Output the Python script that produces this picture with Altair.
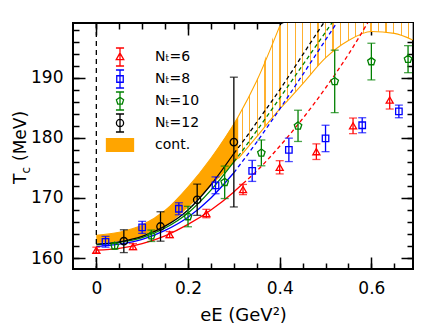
import altair as alt
import pandas as pd

# ---------------- data ----------------
series_names = ["Nₜ=6", "Nₜ=8", "Nₜ=10", "Nₜ=12"]
series_colors = ["#ff0000", "#0000ff", "#008000", "#000000"]

x_nt6 = [0.00, 0.08, 0.16, 0.24, 0.32, 0.40, 0.48, 0.56, 0.64]
tc_nt6 = [161.3, 161.9, 163.9, 167.4, 171.4, 175.1, 177.7, 182.0, 186.3]
err_nt6 = [0.5, 0.5, 0.5, 0.7, 0.85, 1.1, 1.3, 1.3, 1.5]

x_nt8 = [0.02, 0.10, 0.18, 0.26, 0.34, 0.42, 0.50, 0.58, 0.66]
tc_nt8 = [162.7, 165.1, 168.2, 172.1, 174.5, 178.0, 179.9, 182.1, 184.4]
err_nt8 = [0.9, 1.0, 1.0, 1.4, 1.75, 1.95, 2.2, 1.25, 1.05]

x_nt10 = [0.04, 0.12, 0.20, 0.28, 0.36, 0.44, 0.52, 0.60, 0.68]
tc_nt10 = [162.0, 163.7, 166.9, 172.6, 177.5, 182.0, 189.4, 192.7, 193.1]
err_nt10 = [0.5, 0.95, 1.7, 2.7, 2.15, 2.6, 5.2, 3.05, 2.25]

x_nt12 = [0.06, 0.14, 0.22, 0.30]
tc_nt12 = [162.8, 165.25, 169.7, 179.3]
err_nt12 = [1.9, 2.45, 2.6, 10.8]

# fit curves (solid up to split, dashed beyond)
curve_x = [0.0, 0.05, 0.1, 0.15, 0.2, 0.25, 0.3, 0.32, 0.35, 0.4, 0.45, 0.5, 0.55, 0.6]
curve_nt6 = [161.3, 161.6, 162.4, 163.7, 165.6, 168.0, 171.0, 172.4, 174.5, 178.6, 183.2, 188.3, 193.9, 200.2]
curve_nt8 = [161.9, 162.3, 163.1, 164.6, 166.8, 170.0, 174.2, 176.2, 179.3, 184.8, 190.5, 196.3, 202.1]
curve_nt10 = [162.2, 162.6, 163.4, 165.0, 167.5, 171.3, 176.0, 178.0, 181.2, 186.6, 192.1, 197.6, 203.1]
curve_nt12 = [162.3, 162.7, 163.6, 165.3, 168.0, 172.2, 177.4, 179.4, 182.6, 188.0, 193.8, 199.6, 205.0]
curve_split = [0.32, 0.3, 0.3, 0.3]

# continuum band
band_x = [0.0, 0.05, 0.1, 0.15, 0.2, 0.25, 0.31, 0.35, 0.4, 0.41, 0.45, 0.5, 0.55, 0.6, 0.65, 0.69]
band_lower = [162.5, 162.8, 163.6, 165.2, 168.4, 172.0, 176.6, 180.2, 184.8, 185.6, 189.0, 193.3, 196.2, 197.7, 197.4, 196.3]
band_upper = [163.8, 164.3, 165.5, 167.9, 171.8, 176.6, 183.6, 189.5, 198.6, 199.1, 199.1, 199.1, 199.1, 199.1, 199.1, 199.1]
band_split = 0.31

x_ticks_major = [0.0, 0.2, 0.4, 0.6]
x_ticks_minor = [0.0, 0.05, 0.1, 0.15, 0.2, 0.25, 0.3, 0.35, 0.4, 0.45, 0.5, 0.55, 0.6, 0.65]
y_ticks_major = [160, 170, 180, 190]
y_ticks_minor = list(range(160, 199, 2))

legend_labels = series_names + ["cont."]

# ---------------- styling ----------------
FONT = "DejaVu Sans"
ORANGE = "#ffa500"
W, H = 340, 246
xdom = [-0.0509, 0.6908]
ydom = [158.17, 199.12]
xscale = alt.Scale(domain=xdom, nice=False, zero=False)
yscale = alt.Scale(domain=ydom, nice=False, zero=False)

point_shapes = [
    "triangle-up",
    "square",
    "M0,-1L0.951,-0.309L0.588,0.809L-0.588,0.809L-0.951,-0.309Z",
    "circle",
]
point_sizes = [50, 42, 62, 55]
ebar = "M-0.45,-1H0.45M0,-1V1M-0.45,1H0.45"
legend_paths = [
    ebar + "M0,-0.45L0.42,0.3L-0.42,0.3Z",
    ebar + "M-0.36,-0.36H0.36V0.36H-0.36Z",
    ebar + "M0,-0.42L0.4,-0.13L0.247,0.34L-0.247,0.34L-0.4,-0.13Z",
    ebar + "M0.4,0A0.4,0.4,0,1,1,-0.4,0A0.4,0.4,0,1,1,0.4,0Z",
    "M-1.5,-0.7H1.5V0.7H-1.5Z",
]


def X(field="x", axis=None):
    return alt.X(f"{field}:Q", scale=xscale, axis=axis)


def Y(field, axis=None):
    return alt.Y(f"{field}:Q", scale=yscale, axis=axis)


tick_common = dict(labels=False, domain=False, grid=False, ticks=True,
                   tickColor="black", tickWidth=1.5, title=None)
x_axes = [
    alt.Axis(orient="bottom", values=x_ticks_major, format=".1~f", ticks=False,
             domain=False, grid=False, labelFont=FONT, labelFontSize=17,
             labelColor="black", labelPadding=11, title="eE (GeV²)",
             titleFont=FONT, titleFontSize=18, titleFontWeight="normal",
             titleColor="black", titlePadding=10),
    alt.Axis(orient="bottom", values=x_ticks_major, tickSize=alt.ExprRef(expr="-12"), **tick_common),
    alt.Axis(orient="bottom", values=x_ticks_minor, tickSize=alt.ExprRef(expr="-6"), **tick_common),
    alt.Axis(orient="top", values=x_ticks_major, tickSize=alt.ExprRef(expr="-12"), **tick_common),
    alt.Axis(orient="top", values=x_ticks_minor, tickSize=alt.ExprRef(expr="-6"), **tick_common),
]
y_axes = [
    alt.Axis(orient="left", values=y_ticks_major, format="d", ticks=False,
             domain=False, grid=False, labelFont=FONT, labelFontSize=17,
             labelColor="black", labelPadding=10, title=None),
    alt.Axis(orient="left", values=y_ticks_major, tickSize=alt.ExprRef(expr="-12"), **tick_common),
    alt.Axis(orient="left", values=y_ticks_minor, tickSize=alt.ExprRef(expr="-6"), **tick_common),
    alt.Axis(orient="right", values=y_ticks_major, tickSize=alt.ExprRef(expr="-12"), **tick_common),
    alt.Axis(orient="right", values=y_ticks_minor, tickSize=alt.ExprRef(expr="-6"), **tick_common),
]

# ---------------- tables ----------------
band_df = pd.DataFrame({"x": band_x, "lower": band_lower, "upper": band_upper})
band_solid = band_df[band_df.x <= band_split]
band_hatch = band_df[band_df.x >= band_split]
band_upper_line = band_df[band_df.upper < 199.05]

layers = []

# solid continuum band
layers.append(alt.Chart(band_solid).mark_area(color=ORANGE, opacity=1, interpolate="monotone", clip=True)
              .encode(x=X(), y=Y("lower"), y2="upper"))

# hatched continuum band (vertical stripes via sharp gradient)
n_stripes = 23
w = 0.0072
stops = [alt.GradientStop(color="white", offset=0)]
for i in range(n_stripes):
    a = (i + 0.5) / n_stripes
    stops += [alt.GradientStop(color="white", offset=a - w / 2),
              alt.GradientStop(color="#ffb02e", offset=a - w / 2),
              alt.GradientStop(color="#ffb02e", offset=a + w / 2),
              alt.GradientStop(color="white", offset=a + w / 2)]
stops.append(alt.GradientStop(color="white", offset=1))
hatch = alt.LinearGradient(gradient="linear", stops=stops, x1=0, x2=1, y1=0, y2=0)
layers.append(alt.Chart(band_hatch).mark_area(fill=hatch, opacity=1, interpolate="monotone", clip=True)
              .encode(x=X(), y=Y("lower"), y2="upper"))

# boundary lines
layers.append(alt.Chart(band_hatch).mark_line(color=ORANGE, strokeWidth=1.1, interpolate="monotone", clip=True)
              .encode(x=X(), y=Y("lower")))
layers.append(alt.Chart(band_upper_line).mark_line(color=ORANGE, strokeWidth=1.1, interpolate="monotone", clip=True)
              .encode(x=X(), y=Y("upper")))

# vertical dashed line at eE = 0
layers.append(alt.Chart(pd.DataFrame({"x": [0.0]})).mark_rule(color="black", strokeWidth=1.3, strokeDash=[5, 4])
              .encode(x=X()))

# fit curves
curves = [curve_nt6, curve_nt8, curve_nt10, curve_nt12]
for k, (cy, sp, col) in enumerate(zip(curves, curve_split, series_colors)):
    df = pd.DataFrame({"x": curve_x[:len(cy)], "y": cy})
    solid = df[df.x <= sp + 1e-9]
    dashed = df[df.x >= sp - 1e-9]
    layers.append(alt.Chart(solid).mark_line(color=col, strokeWidth=1.3, interpolate="monotone", clip=True)
                  .encode(x=X(axis=x_axes[k + 1]), y=Y("y", axis=y_axes[k + 1])))
    layers.append(alt.Chart(dashed).mark_line(color=col, strokeWidth=1.3, strokeDash=[4, 3],
                                              interpolate="monotone", clip=True)
                  .encode(x=X(), y=Y("y")))

# data points with error bars
pts = [(x_nt6, tc_nt6, err_nt6), (x_nt8, tc_nt8, err_nt8),
       (x_nt10, tc_nt10, err_nt10), (x_nt12, tc_nt12, err_nt12)]
for k, ((xs, ys, es), col, shp, sz) in enumerate(zip(pts, series_colors, point_shapes, point_sizes)):
    df = pd.DataFrame({"x": xs, "y": ys, "err": es})
    df["lo"] = df.y - df.err
    df["hi"] = df.y + df.err
    base = alt.Chart(df)
    rule_axis_x = x_axes[0] if k == 0 else None
    rule_axis_y = y_axes[0] if k == 0 else None
    layers.append(base.mark_rule(color=col, strokeWidth=1.3)
                  .encode(x=X(axis=rule_axis_x), y=Y("lo", axis=rule_axis_y), y2="hi"))
    layers.append(base.transform_fold(["lo", "hi"], as_=["end", "val"])
                  .mark_tick(orient="horizontal", size=8, thickness=1.3, color=col)
                  .encode(x=X(), y=Y("val")))
    layers.append(base.mark_point(shape=shp, size=sz, filled=False, color=col, strokeWidth=1.3, opacity=1)
                  .encode(x=X(), y=Y("y")))

# legend (drawn only through the legend of an empty layer)
leg_df = pd.DataFrame({"label": legend_labels})
layers.append(alt.Chart(leg_df).transform_filter("false")
              .mark_point(opacity=1, strokeWidth=1.3)
              .encode(
                  shape=alt.Shape("label:N", scale=alt.Scale(domain=legend_labels, range=legend_paths),
                                  legend=alt.Legend(title=None)),
                  stroke=alt.Stroke("label:N", scale=alt.Scale(domain=legend_labels, range=series_colors + [ORANGE]),
                                    legend=alt.Legend(title=None)),
                  fill=alt.Fill("label:N", scale=alt.Scale(domain=legend_labels,
                                                           range=["transparent"] * 4 + [ORANGE]),
                                legend=alt.Legend(title=None)),
              ))

# y-axis title with subscript (T_c (MeV))
def title_piece(txt, size, xpix, ypix):
    return (alt.Chart(pd.DataFrame({"t": [txt]}))
            .mark_text(angle=270, align="left", baseline="alphabetic", fontSize=size, font=FONT, color="black")
            .encode(text="t:N", x=alt.value(xpix), y=alt.value(ypix)))

layers.append(title_piece("T", 17, -47, 161))
layers.append(title_piece("c", 12, -43, 150.5))
layers.append(title_piece("(MeV)", 17, -47, 138))

chart = (alt.layer(*layers)
         .resolve_axis(x="independent", y="independent")
         .properties(width=W, height=H,
                     autosize=alt.AutoSizeParams(type="none"),
                     padding={"left": 65, "top": 15, "right": 10, "bottom": 54})
         .configure_view(stroke="black", strokeWidth=2)
         .configure_legend(orient="none", legendX=37, legendY=24, padding=0,
                           symbolSize=324, symbolStrokeWidth=1.3, labelFont=FONT,
                           labelFontSize=14, labelColor="black", labelOffset=25,
                           rowPadding=-4.2, labelLimit=200))

chart.save("out.html", embed_options={"renderer": "svg", "actions": False})
